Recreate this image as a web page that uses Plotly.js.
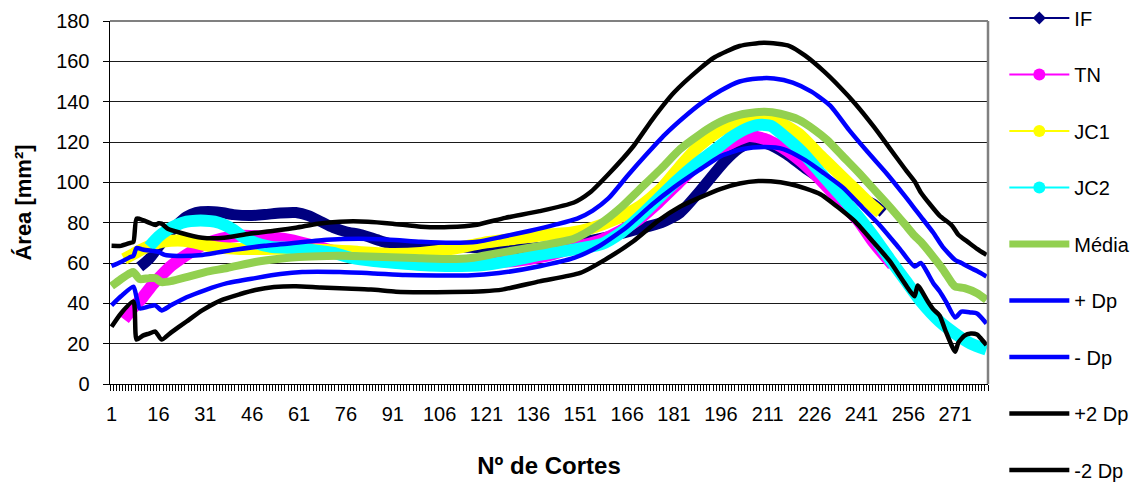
<!DOCTYPE html>
<html>
<head>
<meta charset="utf-8">
<script src="https://cdn.plot.ly/plotly-3.0.1.min.js"></script>
<style>html,body{margin:0;padding:0;background:#fff;}#chart{width:1142px;height:485px;}</style>
</head>
<body>
<div id="chart"></div>
<script>
// ---- data (slice number vs area, mm²) ----
const seriesNames = ["IF", "TN", "JC1", "JC2", "Média", "+ Dp", "- Dp", "+2 Dp", "-2 Dp"];
const tickLabels = [1, 16, 31, 46, 61, 76, 91, 106, 121, 136, 151, 166, 181, 196, 211, 226, 241, 256, 271];

const IF_x = [10, 13, 16, 19, 22, 25, 28, 32, 36, 40, 45, 50, 55, 60, 64, 68, 72, 76, 81, 87, 93, 100, 110, 120, 130, 140, 150, 160, 170, 177, 183, 190, 197, 202, 206, 211, 217, 223, 229, 235, 241, 245, 248];
const IF_y = [58, 62, 68, 74, 79, 83, 85, 85.5, 85, 84, 83.5, 84, 84.8, 85, 83.5, 80.5, 77.5, 75.5, 74, 71, 68.5, 68, 68, 67.5, 67, 68, 70, 73, 77, 80, 85, 97, 110, 117, 120, 119, 114, 107, 101, 96, 92, 89, 85];

const TN_x = [5, 8, 11, 14, 17, 20, 23, 27, 31, 36, 42, 50, 58, 66, 74, 82, 90, 100, 110, 120, 130, 140, 150, 157, 164, 170, 176, 182, 188, 194, 200, 205, 210, 216, 222, 228, 234, 240, 245, 251];
const TN_y = [32, 38, 43, 49, 54, 58.5, 62, 66, 69.5, 72, 73.5, 73, 71.5, 68.5, 65, 63, 62, 61.5, 61, 60.5, 61, 63.5, 68, 71, 76, 82, 90, 99, 108, 115, 120, 123, 121.5, 117, 110, 101, 91, 81, 70, 59];

const JC1_x = [5, 8, 11, 14, 17, 20, 24, 28, 32, 36, 42, 50, 60, 70, 80, 90, 100, 110, 120, 130, 140, 148, 155, 162, 170, 177, 183, 189, 195, 200, 205, 210, 215, 221, 228, 234, 240, 244, 247];
const JC1_y = [62, 64.5, 67, 69, 70.5, 71, 71, 70, 68.5, 67.5, 67, 67, 67, 66.5, 65.5, 64.5, 65, 67, 70, 72, 74, 75, 77.5, 81.5, 88, 97, 108, 118, 125, 129, 131, 131, 129.5, 124, 113, 104, 95, 89, 85];

const JC2_x = [13, 16, 19, 22, 25, 28, 31, 34, 37, 40, 43, 47, 52, 58, 65, 72, 78, 85, 92, 100, 110, 120, 130, 138, 146, 152, 158, 164, 170, 176, 182, 188, 194, 199, 204, 208, 212, 217, 222, 228, 234, 240, 245, 250, 255, 260, 266, 271, 276, 281];
const JC2_y = [68, 73, 76.5, 79, 80.5, 81, 81, 80.5, 79, 76.5, 73, 70, 68, 67.5, 66.5, 65, 62.5, 61, 60, 59, 58.5, 59, 61.5, 64, 66, 67.5, 69.5, 75, 83, 92, 101, 109, 116, 122, 126.5, 128.5, 128, 122, 115, 104.5, 94, 83, 73, 62, 51.5, 41, 31, 25, 20, 17];

const MED_x = [1, 4, 7, 8, 10, 13, 15, 17, 20, 25, 31, 38, 47, 54, 61, 70, 78, 88, 98, 109, 116, 125, 138, 149, 157, 164, 170, 177, 183, 189, 194, 198, 202, 206, 210, 215, 221, 226, 230, 235, 240, 245, 250, 255, 258, 260, 264, 267, 270, 271, 274, 278, 281];
const MED_y = [48.5, 52, 55, 55.5, 52, 52.5, 52.5, 50.5, 51, 53, 55.5, 57.5, 60.5, 62, 63, 63.5, 63.5, 63, 62.5, 62, 62.5, 65, 68.5, 72, 79, 87.5, 96.5, 107, 116.5, 123.5, 128.5, 131.5, 133.5, 134.5, 135, 134, 131, 126, 121, 113, 105, 96.5, 88, 79, 73.5, 70.5, 63, 57, 50, 48.3, 47.5, 45, 41.7];

const PDP_x = [1, 4, 7, 8, 9, 11, 14, 16, 18, 22, 30, 40, 50, 60, 70, 80, 90, 100, 110, 118, 126, 135, 143, 150, 155, 160, 166, 172, 178, 184, 190, 196, 202, 208, 213, 219, 225, 231, 237, 243, 249, 255, 258, 260, 264, 267, 271, 273, 276, 278, 281];
const PDP_y = [58.5, 60.5, 63, 63.5, 67.5, 66.7, 66, 65.5, 64, 63.5, 64, 66.5, 68.5, 70, 71.5, 72, 71.5, 70.5, 70, 70.5, 73, 76, 79, 82, 86, 92, 103, 113.5, 123.5, 132, 139.5, 145.5, 150, 151.5, 151.5, 149.5, 145, 138, 126, 115, 104.5, 93, 87, 83, 75, 68, 61.5, 60, 57.5, 56, 53.3];

const MDP_x = [1, 4, 8, 9, 10, 13, 15, 17, 20, 25, 31, 38, 47, 55, 62, 74, 85, 95, 105, 115, 125, 138, 149, 157, 166, 174, 181, 189, 196, 203, 210, 216, 223, 229, 235, 241, 247, 253, 258, 260, 264, 266, 268, 271, 273, 276, 278, 281];
const MDP_y = [39, 43.5, 48.3, 43, 37.5, 38.5, 39, 36.5, 39, 43, 46.6, 50, 52.5, 54.5, 55.5, 55.5, 54.8, 54, 53.8, 53.8, 55, 58.4, 62.5, 68.3, 78, 89, 97.5, 106, 113, 116.5, 117.5, 116.5, 111, 104.5, 97.5, 88, 78.5, 67.5, 58.3, 60, 50, 46, 41, 33, 35.9, 35.5, 35, 30];

const P2DP_x = [1, 4, 7, 8, 9, 11, 13, 15, 16, 17, 19, 23, 30, 37, 45, 53, 60, 67, 74, 83, 91, 100, 109, 118, 127, 138, 149, 154, 160, 168, 174, 181, 189, 194, 202, 210, 218, 223, 229, 234, 239, 245, 250, 255, 258, 260, 263, 266, 270, 272, 275, 278, 281];
const P2DP_y = [68.5, 68.5, 70, 70.5, 82, 81.3, 80, 78.8, 79.7, 79.5, 77, 75, 72.5, 72.5, 74.5, 76, 77.5, 79.5, 80.5, 80.5, 79.5, 78, 77.8, 79, 82.4, 85.7, 90, 94.8, 104, 117.9, 131, 144.5, 156, 162, 167.6, 169.2, 167.6, 162.8, 155, 147.4, 139, 127.5, 117, 106.5, 100.5, 95, 89, 83.5, 78.5, 74, 70.5, 67, 64];

const M2DP_x = [1, 4, 8, 9, 11, 13, 15, 17, 20, 25, 30, 36, 42, 47, 53, 60, 68, 76, 84, 92, 100, 110, 120, 126, 138, 151, 159, 168, 176, 183, 189, 196, 202, 208, 212, 218, 223, 228, 234, 239, 245, 250, 255, 258, 259, 262, 264, 266, 268, 271, 272, 274, 276, 278, 279, 281];
const M2DP_y = [28.4, 35, 40.9, 22, 24, 25, 26, 22, 25.5, 31, 36.5, 41.5, 44.5, 46.6, 48.1, 48.5, 47.8, 47.3, 46.8, 45.8, 45.5, 45.6, 46, 46.8, 50.9, 55.1, 61.7, 70.8, 81, 88, 92.3, 96.8, 99.4, 100.6, 100.5, 99.2, 97, 94, 87, 80.5, 70, 61, 49.5, 43.5, 48.8, 41.5, 37, 34, 26, 16, 20.5, 24, 25, 24.5, 23, 19.3];

const FONT = "Liberation Sans, Arial, sans-serif";
const colors = ["#000080", "#FF00FF", "#FFFF00", "#00FFFF", "#92D050", "#0000FF", "#0000FF", "#000000", "#000000"];
const widths = [11, 12, 12, 12, 8, 4.5, 4.5, 4.5, 4.5];
const xs = [IF_x, TN_x, JC1_x, JC2_x, MED_x, PDP_x, MDP_x, P2DP_x, M2DP_x];
const ys = [IF_y, TN_y, JC1_y, JC2_y, MED_y, PDP_y, MDP_y, P2DP_y, M2DP_y];

const traces = [];
for (let i = 0; i < seriesNames.length; i++) {
  traces.push({
    type: "scatter", mode: "lines", name: seriesNames[i],
    x: xs[i], y: ys[i], showlegend: false, hoverinfo: "x+y+name",
    line: {color: colors[i], width: widths[i], shape: "spline", smoothing: 0.6}
  });
}
// legend entries
const legSymbols = ["diamond", "circle", "circle", "circle", null, null, null, null, null];
const legWidths = [2, 2, 2, 2, 7, 4.5, 4.5, 4.5, 4.5];
for (let i = 0; i < seriesNames.length; i++) {
  const t = {
    type: "scatter", name: seriesNames[i], x: [null], y: [null],
    legendgroup: "g" + i, showlegend: true, hoverinfo: "skip",
    mode: legSymbols[i] ? "lines+markers" : "lines",
    line: {color: colors[i], width: legWidths[i]}
  };
  if (legSymbols[i]) t.marker = {symbol: legSymbols[i], size: legSymbols[i] === "diamond" ? 10 : 12, color: colors[i]};
  traces.push(t);
}

const layout = {
  width: 1142, height: 485,
  margin: {l: 110, r: 154, t: 21, b: 101, autoexpand: false},
  paper_bgcolor: "#fff", plot_bgcolor: "#fff",
  font: {family: FONT, color: "#000", size: 20},
  showlegend: true,
  legend: {
    xref: "paper", yref: "paper",
    x: 1.0186, xanchor: "left", y: 1.062, yanchor: "top",
    font: {family: FONT, size: 20, color: "#000"},
    traceorder: "grouped", tracegroupgap: 27.5, itemwidth: 60,
    maxheight: 560,
    bgcolor: "rgba(0,0,0,0)", borderwidth: 0
  },
  xaxis: {
    range: [0.5, 281.5], tickmode: "array", tickvals: tickLabels, ticktext: tickLabels.map(String),
    ticks: "", ticklabelstandoff: 12, showgrid: false, zeroline: false,
    showline: true, linecolor: "#000", linewidth: 1,
    tickfont: {family: FONT, size: 20, color: "#000"},
    minor: {tickmode: "linear", tick0: 0.5, dtick: 1, ticks: "outside", ticklen: 6, tickcolor: "#000", tickwidth: 1, showgrid: false},
    title: {text: "Nº de Cortes", font: {family: FONT, size: 24, color: "#000", weight: "bold"}, standoff: 33}
  },
  yaxis: {
    range: [0, 180], tickmode: "array", tickvals: [0, 20, 40, 60, 80, 100, 120, 140, 160, 180],
    ticks: "outside", ticklen: 6, tickcolor: "#000", ticklabelstandoff: 9,
    showgrid: true, gridcolor: "#1a1a1a", gridwidth: 1, zeroline: false,
    showline: true, linecolor: "#000", linewidth: 1.5,
    tickfont: {family: FONT, size: 20, color: "#000"},
    title: {text: "Área [mm²]", font: {family: FONT, size: 22, color: "#000", weight: "bold"}, standoff: 18}
  },
  shapes: [
    {type: "line", xref: "paper", yref: "paper", x0: 0, x1: 1, y0: 1, y1: 1, line: {color: "#808080", width: 2}},
    {type: "line", xref: "paper", yref: "paper", x0: 1, x1: 1, y0: 0, y1: 1, line: {color: "#808080", width: 2.5}}
  ]
};

Plotly.newPlot("chart", traces, layout, {displayModeBar: false, staticPlot: true});
</script>
</body>
</html>
